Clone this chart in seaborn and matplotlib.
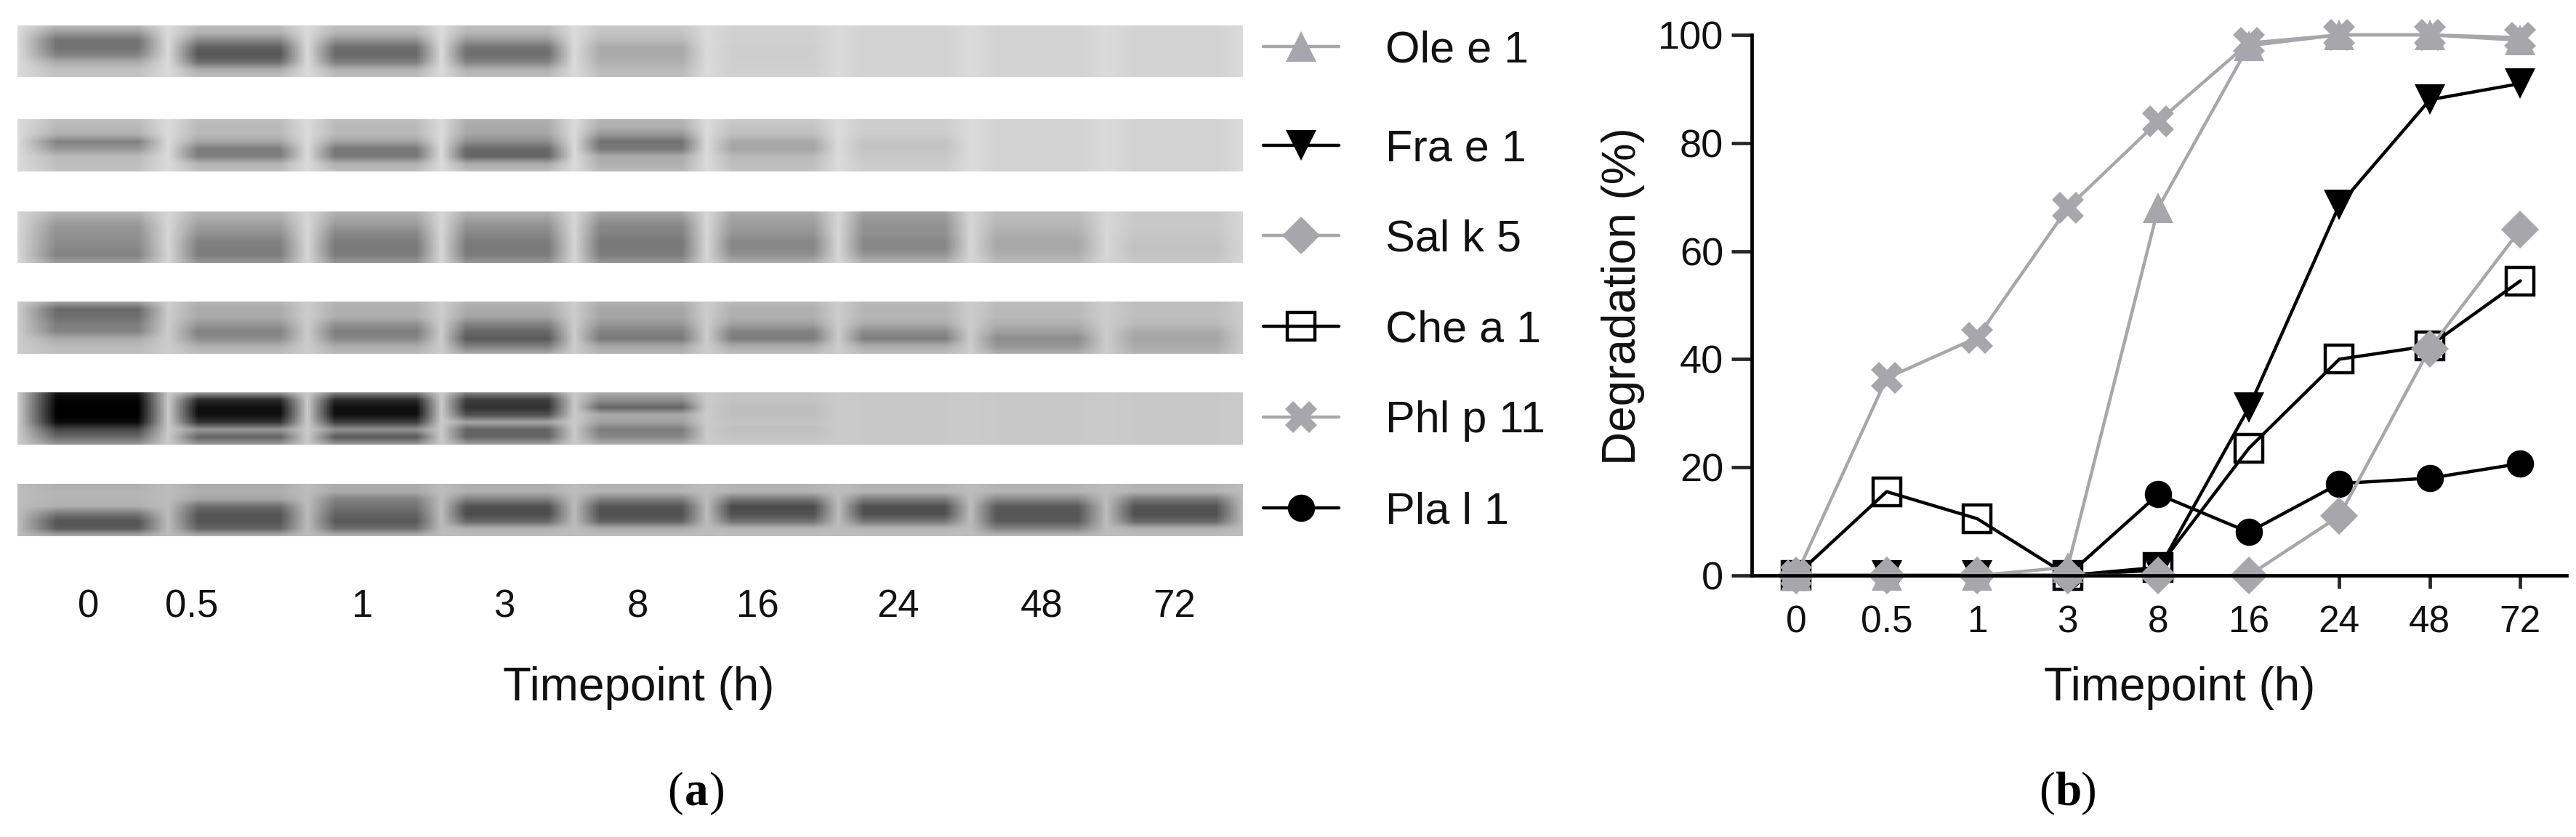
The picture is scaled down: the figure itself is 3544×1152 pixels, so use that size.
import numpy as np
import matplotlib
matplotlib.use('Agg')
import matplotlib.pyplot as plt
import seaborn as sns

timepoints = ['0', '0.5', '1', '3', '8', '16', '24', '48', '72']

ole_e_1 = [0, 0, 0, 1.5, 68, 98, 100, 100, 99]
fra_e_1 = [0, 0, 0, 0, 1, 31, 68.5, 88, 91]
sal_k_5 = [0, 0, 0, 0, 0, 0, 11, 42, 64]
che_a_1 = [0, 15.5, 10.5, 0, 1.5, 23.5, 40, 42.5, 54.5]
phl_p_11 = [0, 36.5, 44, 68, 84, 98.5, 100, 100, 99.5]
pla_l_1 = [0, 0, 0, 0, 15, 8, 17, 18, 20.7]

# gel strips, grey level per lane, top to bottom of the strip
gel_ole = [[185, 190, 190, 190, 200, 208, 210, 210, 210],
           [150, 175, 180, 180, 195, 208, 210, 210, 210],
           [115, 135, 145, 150, 185, 208, 210, 210, 210],
           [115, 95, 110, 115, 170, 206, 210, 210, 210],
           [130, 85, 105, 110, 170, 206, 210, 210, 210],
           [170, 110, 125, 130, 175, 206, 210, 210, 210],
           [190, 170, 175, 175, 185, 208, 210, 210, 210],
           [195, 190, 190, 190, 190, 208, 210, 210, 210]]
gel_fra = [[190, 190, 190, 175, 180, 200, 205, 210, 210],
           [185, 185, 185, 170, 175, 195, 205, 210, 210],
           [175, 185, 185, 165, 150, 190, 203, 210, 210],
           [130, 165, 160, 140, 115, 170, 195, 210, 210],
           [150, 125, 120, 105, 120, 165, 195, 210, 210],
           [185, 125, 120, 100, 170, 185, 200, 210, 210],
           [190, 180, 175, 170, 175, 190, 203, 210, 210],
           [195, 190, 190, 190, 185, 195, 205, 210, 210]]
gel_sal = [[180, 180, 175, 175, 165, 170, 160, 188, 200],
           [165, 170, 165, 160, 150, 162, 152, 185, 200],
           [150, 155, 150, 145, 135, 155, 145, 180, 200],
           [145, 145, 135, 135, 130, 148, 145, 175, 198],
           [140, 130, 125, 125, 120, 135, 135, 168, 195],
           [135, 125, 120, 120, 120, 135, 135, 168, 193],
           [130, 125, 125, 125, 125, 145, 150, 175, 195],
           [160, 150, 150, 150, 150, 175, 180, 188, 200]]
gel_che = [[160, 180, 180, 180, 175, 185, 185, 190, 190],
           [105, 170, 175, 170, 165, 175, 180, 185, 190],
           [110, 170, 175, 165, 165, 175, 180, 185, 190],
           [125, 150, 145, 130, 150, 160, 170, 175, 185],
           [130, 130, 125, 105, 130, 130, 140, 160, 170],
           [170, 140, 135, 90, 120, 125, 125, 140, 165],
           [185, 175, 170, 125, 165, 170, 170, 150, 170],
           [190, 190, 185, 170, 180, 190, 190, 175, 180]]
gel_phl = [[20, 150, 130, 130, 170, 195, 200, 200, 200],
           [5, 40, 40, 60, 140, 195, 200, 200, 200],
           [0, 15, 15, 50, 100, 190, 200, 200, 200],
           [0, 15, 15, 80, 170, 190, 200, 200, 200],
           [10, 50, 60, 165, 160, 195, 200, 200, 200],
           [70, 150, 145, 100, 125, 190, 200, 200, 200],
           [105, 100, 90, 100, 135, 195, 200, 200, 200],
           [150, 150, 150, 160, 175, 200, 200, 200, 200]]
gel_pla = [[175, 170, 170, 175, 180, 180, 180, 180, 180],
           [180, 175, 170, 175, 180, 180, 180, 180, 180],
           [180, 165, 130, 130, 130, 120, 125, 135, 120],
           [175, 110, 115, 80, 85, 75, 80, 90, 85],
           [120, 85, 100, 75, 80, 80, 80, 85, 80],
           [85, 85, 90, 100, 95, 110, 115, 90, 100],
           [90, 100, 110, 175, 170, 180, 180, 130, 175],
           [170, 175, 180, 190, 190, 190, 190, 185, 190]]
gel_gaps = [218, 218, 214, 204, 202, 188]

W, H = 3544, 1152
GREY = '#a7a7ab'

sns.set_theme(style='ticks')
plt.rcParams['font.family'] = ['Liberation Sans', 'DejaVu Sans']

fig = plt.figure(figsize=(W / 100, H / 100), dpi=100, facecolor='white')


def px_axes(left, top, right, bottom):
    return fig.add_axes([left / W, 1 - bottom / H, (right - left) / W, (bottom - top) / H])


def px_text(x, y, s, **kw):
    return fig.text(x / W, 1 - y / H, s, ha='center', va='center', **kw)


def gel_image(strip, gap, height):
    # spread the lane readings out over the width of the strip
    vals = np.array(strip, dtype=float)
    xs = [24]
    cols = [np.full(8, gap)]
    for i, c in enumerate(lane_centres):
        xs += [c - 56, c + 56]
        cols += [vals[:, i], vals[:, i]]
        if i < 8:
            xs.append((c + lane_centres[i + 1]) / 2)
            cols.append(np.full(8, gap))
    xs.append(1710)
    cols.append(np.full(8, gap))
    coarse = np.column_stack(cols)
    fine_x = np.arange(24, 1710, 2)
    by_x = np.array([np.interp(fine_x, xs, row) for row in coarse])
    row_pos = np.linspace(0, 1, 8)
    fine_y = np.linspace(0, 1, height)
    return np.array([np.interp(fine_y, row_pos, by_x[:, j]) for j in range(by_x.shape[1])]).T


# panel a
lane_centres = [133, 328, 516, 697, 881, 1062, 1243, 1426, 1616]
strip_rows = [(35, 106), (164, 236), (291, 362), (415, 487), (540, 612), (666, 738)]
strips = [gel_ole, gel_fra, gel_sal, gel_che, gel_phl, gel_pla]

for (top, bottom), strip, gap in zip(strip_rows, strips, gel_gaps):
    ax = px_axes(24, top, 1710, bottom)
    sns.heatmap(gel_image(strip, gap, bottom - top), cmap='gray', vmin=0, vmax=255,
                cbar=False, ax=ax, xticklabels=False, yticklabels=False)

label_xs = [122, 264, 499, 694, 877, 1042, 1236, 1433, 1616]
ax.set_xticks([(x - 24) / 2 for x in label_xs])
ax.set_xticklabels(timepoints, fontsize=38, color='#111111', rotation=0)
ax.tick_params(axis='x', length=0, pad=52)

px_text(879, 947, 'Timepoint (h)', fontsize=46, color='#111111')

# panel b
axb = px_axes(2410, 48, 3531, 792)
series = [('Pla l 1', pla_l_1, 'black', 'o', 27),
          ('Fra e 1', fra_e_1, 'black', 'v', 30),
          ('Che a 1', che_a_1, 'black', 's', 28),
          ('Ole e 1', ole_e_1, GREY, '^', 30),
          ('Phl p 11', phl_p_11, GREY, 'X', 32),
          ('Sal k 5', sal_k_5, GREY, 'D', 26)]

for name, vals, col, mark, size in series:
    open_mark = mark == 's'
    sns.lineplot(x=timepoints, y=vals, ax=axb, sort=False, errorbar=None,
                 color=col, lw=3.2, marker=mark, markersize=size,
                 markerfacecolor='none' if open_mark else col,
                 markeredgecolor=col, markeredgewidth=3.2 if open_mark else 0,
                 clip_on=False, legend=False)

axb.set_xlim(-0.49, 8.51)
axb.set_ylim(0, 100)
axb.set_yticks([0, 20, 40, 60, 80, 100])
axb.tick_params(axis='y', length=20, width=3.4, labelsize=39, pad=8, labelcolor='#111111')
axb.tick_params(axis='x', length=13, width=3.4, labelsize=37, pad=16, labelcolor='#111111')
axb.set_xlabel('')
axb.set_ylabel('')
axb.patch.set_alpha(0)
sns.despine(ax=axb)
for s in ['left', 'bottom']:
    axb.spines[s].set_linewidth(3.4)
    axb.spines[s].set_color('black')

px_text(2999, 947, 'Timepoint (h)', fontsize=46, color='#111111')
px_text(2233, 408, 'Degradation (%)', fontsize=46, rotation=90, color='#111111')

# legend, first row sits a bit further from the rest
legend_order = ['Ole e 1', 'Fra e 1', 'Sal k 5', 'Che a 1', 'Phl p 11', 'Pla l 1']
lookup = dict(zip([s[0] for s in series], axb.lines))
for names, top in [(legend_order[:1], 41), (legend_order[1:], 177)]:
    fig.legend([lookup[n] for n in names], names, loc='upper left',
               bbox_to_anchor=(1738 / W, 1 - top / H), frameon=False, fontsize=44,
               handlelength=1.7, handletextpad=1.05, labelspacing=1.11,
               borderpad=0, borderaxespad=0, labelcolor='#111111', numpoints=1)

# panel letters
for x, letter in [(958, 'a'), (2845, 'b')]:
    px_text(x - 29, 1092, '(', fontsize=47, family='Liberation Serif', color='black')
    px_text(x, 1092, letter, fontsize=47, family='Liberation Serif', weight='bold', color='black')
    px_text(x + 29, 1092, ')', fontsize=47, family='Liberation Serif', color='black')

fig.savefig('out.png', dpi=100, facecolor='white')
